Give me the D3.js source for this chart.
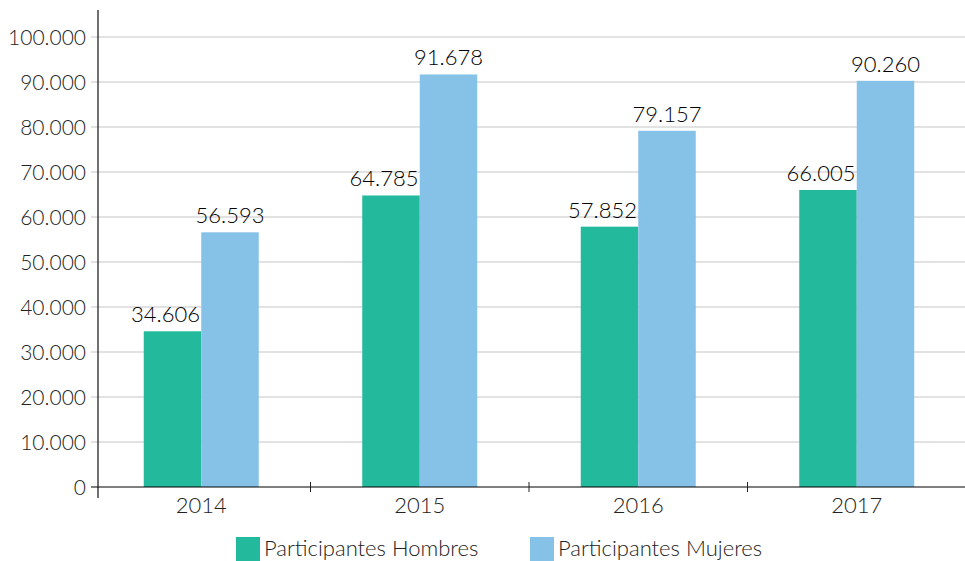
<!DOCTYPE html>
<html>
<head>
<meta charset="utf-8">
<script src="https://cdn.jsdelivr.net/npm/d3@7"></script>
<style>
  body { margin: 0; background: #fff; }
  text { font-family: Lato, "Open Sans", sans-serif; font-weight: 300; }
</style>
</head>
<body>
<svg id="my_dataviz" width="965" height="561"></svg>
<script>
// data
var years = ["2014", "2015", "2016", "2017"]
var hombres = [34606, 64785, 57852, 66005]
var mujeres = [56593, 91678, 79157, 90260]
var seriesNames = ["Participantes Hombres", "Participantes Mujeres"]
var seriesColors = ["#23b99d", "#86c1e8"]
var yTicks = [0, 10000, 20000, 30000, 40000, 50000, 60000, 70000, 80000, 90000, 100000]

var svg = d3.select("svg"),
    width = +svg.attr("width"),
    height = +svg.attr("height");

var plotLeft = 98, plotRight = 965, plotTop = 37, plotBottom = 487

// numbers like 34.606
var fmt = d3.formatLocale({ decimal: ",", thousands: ".", grouping: [3], currency: ["", ""] }).format(",d")

var y = d3.scaleLinear().domain([0, 100000]).range([plotBottom, plotTop])
var x = d3.scaleBand().domain(years).range([92, 966])
var xs = d3.scaleBand().domain([0, 1]).range([0, x.bandwidth()]).paddingOuter(0.9)

// gridlines + y labels
svg.append("g")
    .selectAll("line")
    .data(yTicks.filter(function (d) { return d > 0 }))
    .enter()
    .append("line")
    .attr("x1", 91).attr("x2", plotRight)
    .attr("y1", function (d) { return y(d) })
    .attr("y2", function (d) { return y(d) })
    .style("stroke", "#d9d9d9")
    .style("stroke-width", 1.5)

svg.append("g")
    .selectAll("text")
    .data(yTicks)
    .enter()
    .append("text")
    .attr("x", 86)
    .attr("y", function (d) { return y(d) })
    .attr("dy", "0.36em")
    .attr("text-anchor", "end")
    .style("font-size", "21px")
    .style("fill", "#222")
    .text(function (d) { return fmt(d) })

// bars
var rows = years.map(function (yr, i) { return { year: yr, vals: [hombres[i], mujeres[i]] } })

var groups = svg.append("g")
    .selectAll("g")
    .data(rows)
    .enter()
    .append("g")
    .attr("transform", function (d) { return "translate(" + x(d.year) + ",0)" })

groups.selectAll("rect")
    .data(function (d) { return d.vals })
    .enter()
    .append("rect")
    .attr("x", function (d, i) { return xs(i) })
    .attr("width", xs.bandwidth())
    .attr("y", function (d) { return y(d) })
    .attr("height", function (d) { return y(0) - y(d) })
    .attr("fill", function (d, i) { return seriesColors[i] })

groups.selectAll("text")
    .data(function (d) { return d.vals })
    .enter()
    .append("text")
    .attr("x", function (d, i) { return xs(i) + xs.bandwidth() / 2 + (i == 0 ? -7 : 0) })
    .attr("y", function (d) { return y(d) - 9 })
    .attr("text-anchor", "middle")
    .style("font-size", "22px")
    .style("fill", "#000")
    .text(function (d) { return fmt(d) })

// x axis
svg.append("line")
    .attr("x1", 91).attr("x2", plotRight)
    .attr("y1", y(0)).attr("y2", y(0))
    .style("stroke", "#000")
    .style("stroke-opacity", 0.5)
    .style("stroke-width", 2)

svg.append("g")
    .selectAll("line")
    .data(years.slice(1))
    .enter()
    .append("line")
    .attr("x1", function (d) { return x(d) })
    .attr("x2", function (d) { return x(d) })
    .attr("y1", y(0) - 5).attr("y2", y(0) + 5)
    .style("stroke", "#222")

svg.append("g")
    .selectAll("text")
    .data(years)
    .enter()
    .append("text")
    .attr("x", function (d) { return x(d) + x.bandwidth() / 2 })
    .attr("y", 513)
    .attr("text-anchor", "middle")
    .style("font-size", "22px")
    .style("fill", "#222")
    .text(function (d) { return d })

// y axis line
svg.append("line")
    .attr("x1", plotLeft).attr("x2", plotLeft)
    .attr("y1", 10).attr("y2", 498)
    .style("stroke", "#111")
    .style("stroke-width", 1.2)

// legend
var legendX = [236, 530]
var legend = svg.append("g")
    .selectAll("g")
    .data(seriesNames)
    .enter()
    .append("g")
    .attr("transform", function (d, i) { return "translate(" + legendX[i] + ",537)" })

legend.append("rect")
    .attr("width", 24).attr("height", 24)
    .attr("fill", function (d, i) { return seriesColors[i] })

legend.append("text")
    .attr("x", 28)
    .attr("y", 19)
    .style("font-size", "22px")
    .style("fill", "#222")
    .text(function (d) { return d })
</script>
</body>
</html>
